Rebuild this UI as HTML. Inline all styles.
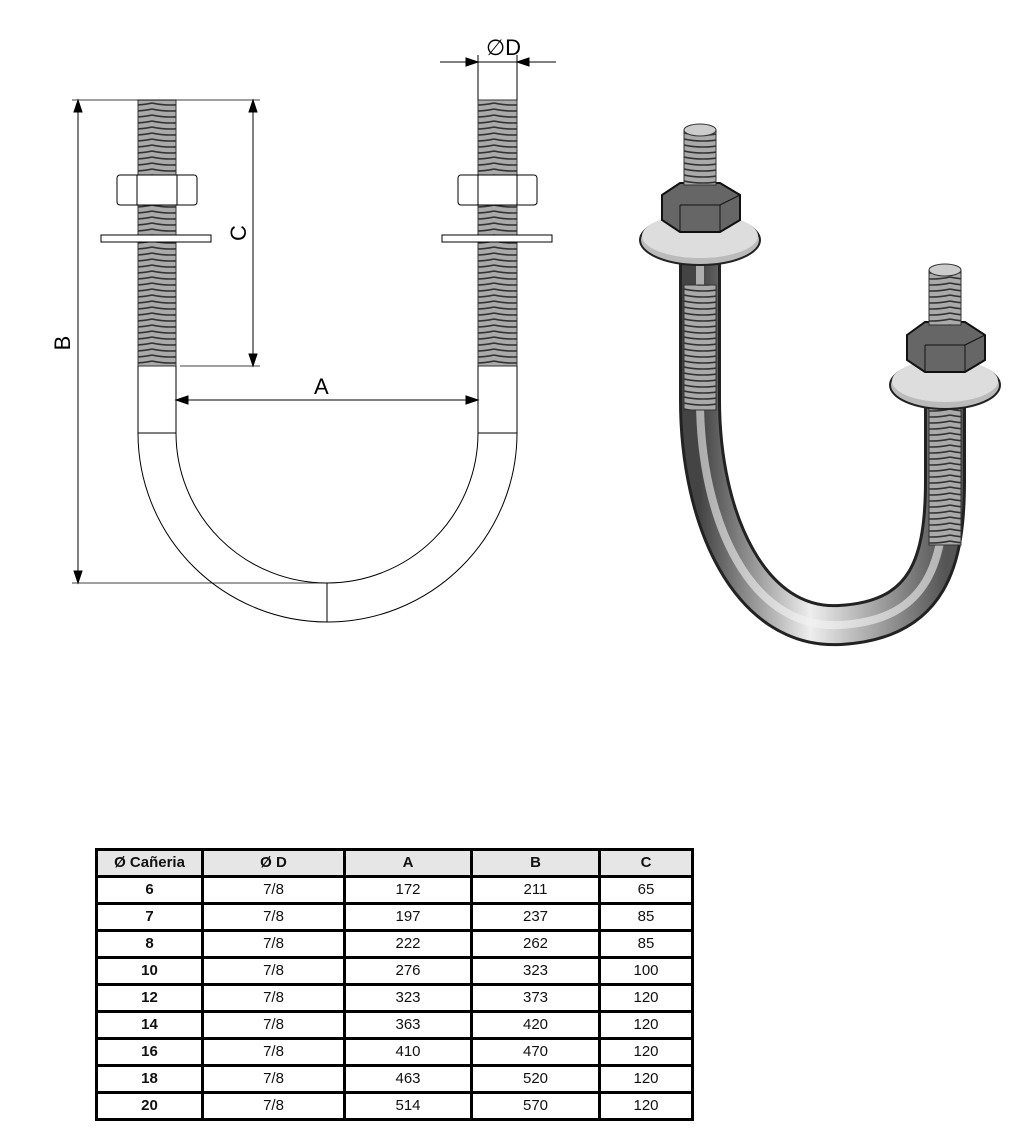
<!DOCTYPE html>
<html><head><meta charset="utf-8"><style>
body{margin:0;background:#fff;width:1024px;height:1138px;position:relative;overflow:hidden;font-family:"Liberation Sans",sans-serif}
svg{position:absolute;left:0;top:0}
table{position:absolute;left:95px;top:848px;border-collapse:collapse;border:3px solid #000;table-layout:fixed}
td{border:3px solid #000;height:24px;padding:0;text-align:center;font-size:15px;line-height:22px;color:#111}
tr:first-child td{background:#e6e6e6;font-weight:bold;font-size:15px}
td:first-child{font-weight:bold}
</style></head><body>
<svg width="1024" height="1138" viewBox="0 0 1024 1138">
<defs>
<pattern id="thr" width="38" height="6" patternUnits="userSpaceOnUse">
<rect width="38" height="6" fill="#aaa"/><path d="M0 1 Q19 5 38 1" stroke="#333" stroke-width="1.6" fill="none"/></pattern>
<linearGradient id="rodg" x1="0" x2="1"><stop offset="0" stop-color="#444"/><stop offset=".45" stop-color="#eee"/><stop offset="1" stop-color="#555"/></linearGradient>
</defs>
<g stroke="#000" stroke-width="1" fill="none">
<rect x="138" y="100" width="38" height="266" fill="url(#thr)" stroke="#333"/>
<rect x="117" y="175" width="80" height="30" rx="3" fill="#fff"/>
<line x1="137" y1="175" x2="137" y2="205"/><line x1="177" y1="175" x2="177" y2="205"/>
<rect x="101" y="235" width="110" height="7" fill="#fff"/>
<rect x="478" y="100" width="39" height="266" fill="url(#thr)" stroke="#333"/>
<rect x="458" y="175" width="79" height="30" rx="3" fill="#fff"/>
<line x1="478" y1="175" x2="478" y2="205"/><line x1="517" y1="175" x2="517" y2="205"/>
<rect x="442" y="235" width="110" height="7" fill="#fff"/>
<path d="M138 366 V433 A189.5 189 0 0 0 517 433 V366"/>
<path d="M176 366 V433 A151 150 0 0 0 478 433 V366"/>
<line x1="138" y1="433" x2="176" y2="433"/><line x1="478" y1="433" x2="517" y2="433"/>
<line x1="327" y1="583" x2="327" y2="622"/>
<line x1="72" y1="100" x2="260" y2="100" stroke-width=".8"/>
<line x1="72" y1="583" x2="327" y2="583" stroke-width=".8"/>
<line x1="78" y1="100" x2="78" y2="583"/>
<path d="M78 100 l-4 12 h8z M78 583 l-4 -12 h8z" fill="#000"/>
<line x1="180" y1="366" x2="260" y2="366" stroke-width=".8"/>
<line x1="253" y1="100" x2="253" y2="366"/>
<path d="M253 100 l-4 12 h8z M253 366 l-4 -12 h8z" fill="#000"/>
<line x1="176" y1="400" x2="478" y2="400"/>
<path d="M176 400 l12 -4 v8z M478 400 l-12 -4 v8z" fill="#000"/>
<line x1="440" y1="62" x2="556" y2="62"/>
<line x1="478" y1="55" x2="478" y2="100"/><line x1="517" y1="55" x2="517" y2="100"/>
<path d="M478 62 l-12 -4 v8z M517 62 l12 -4 v8z" fill="#000"/>
</g>
<g font-family="Liberation Sans,sans-serif" font-size="22" fill="#000">
<text x="314" y="394">A</text>
<text x="486" y="55">∅D</text>
<text transform="translate(246,233) rotate(-90)" text-anchor="middle">C</text>
<text transform="translate(70,343) rotate(-90)" text-anchor="middle">B</text>
</g>
<g>
<path d="M700 250 V400 C700 520 750 630 840 625 C930 620 945 560 945 480 V385" stroke="#222" stroke-width="42" fill="none"/>
<path d="M700 250 V400 C700 520 750 630 840 625 C930 620 945 560 945 480 V385" stroke="url(#rodg)" stroke-width="36" fill="none"/>
<path d="M700 250 V400 C700 520 750 630 840 625 C930 620 945 560 945 480 V385" stroke="#f4f4f4" stroke-width="8" fill="none" opacity=".6"/>
<rect x="684" y="285" width="32" height="125" fill="url(#thr)" stroke="#333"/>
<rect x="929" y="380" width="32" height="165" fill="url(#thr)" stroke="#333"/>
<ellipse cx="700" cy="240" rx="60" ry="25" fill="#bbb" stroke="#222" stroke-width="2"/>
<ellipse cx="700" cy="236" rx="58" ry="22" fill="#ddd"/>
<path d="M662 195 L680 183 L720 183 L740 195 L740 220 L720 232 L680 232 L662 220Z" fill="#666" stroke="#111" stroke-width="2"/>
<path d="M680 205 L720 205 L740 195 M680 205 V232 M720 205 V232" stroke="#111" fill="none"/>
<rect x="684" y="130" width="32" height="55" fill="url(#thr)" stroke="#333"/>
<ellipse cx="700" cy="130" rx="16" ry="6" fill="#ccc" stroke="#333"/>
<ellipse cx="945" cy="385" rx="55" ry="24" fill="#bbb" stroke="#222" stroke-width="2"/>
<ellipse cx="945" cy="381" rx="53" ry="21" fill="#ddd"/>
<path d="M907 335 L925 322 L965 322 L985 335 L985 360 L965 372 L925 372 L907 360Z" fill="#666" stroke="#111" stroke-width="2"/>
<path d="M925 345 L965 345 L985 335 M925 345 V372 M965 345 V372" stroke="#111" fill="none"/>
<rect x="929" y="270" width="32" height="55" fill="url(#thr)" stroke="#333"/>
<ellipse cx="945" cy="270" rx="16" ry="6" fill="#ccc" stroke="#333"/>
</g>
</svg>
<table style="width:596px">
<colgroup><col style="width:106px"><col style="width:142px"><col style="width:127px"><col style="width:128px"><col style="width:93px"></colgroup>
<tr><td>Ø Cañeria</td><td>Ø D</td><td>A</td><td>B</td><td>C</td></tr>
<tr><td>6</td><td>7/8</td><td>172</td><td>211</td><td>65</td></tr>
<tr><td>7</td><td>7/8</td><td>197</td><td>237</td><td>85</td></tr>
<tr><td>8</td><td>7/8</td><td>222</td><td>262</td><td>85</td></tr>
<tr><td>10</td><td>7/8</td><td>276</td><td>323</td><td>100</td></tr>
<tr><td>12</td><td>7/8</td><td>323</td><td>373</td><td>120</td></tr>
<tr><td>14</td><td>7/8</td><td>363</td><td>420</td><td>120</td></tr>
<tr><td>16</td><td>7/8</td><td>410</td><td>470</td><td>120</td></tr>
<tr><td>18</td><td>7/8</td><td>463</td><td>520</td><td>120</td></tr>
<tr><td>20</td><td>7/8</td><td>514</td><td>570</td><td>120</td></tr>
</table>
</body></html>
